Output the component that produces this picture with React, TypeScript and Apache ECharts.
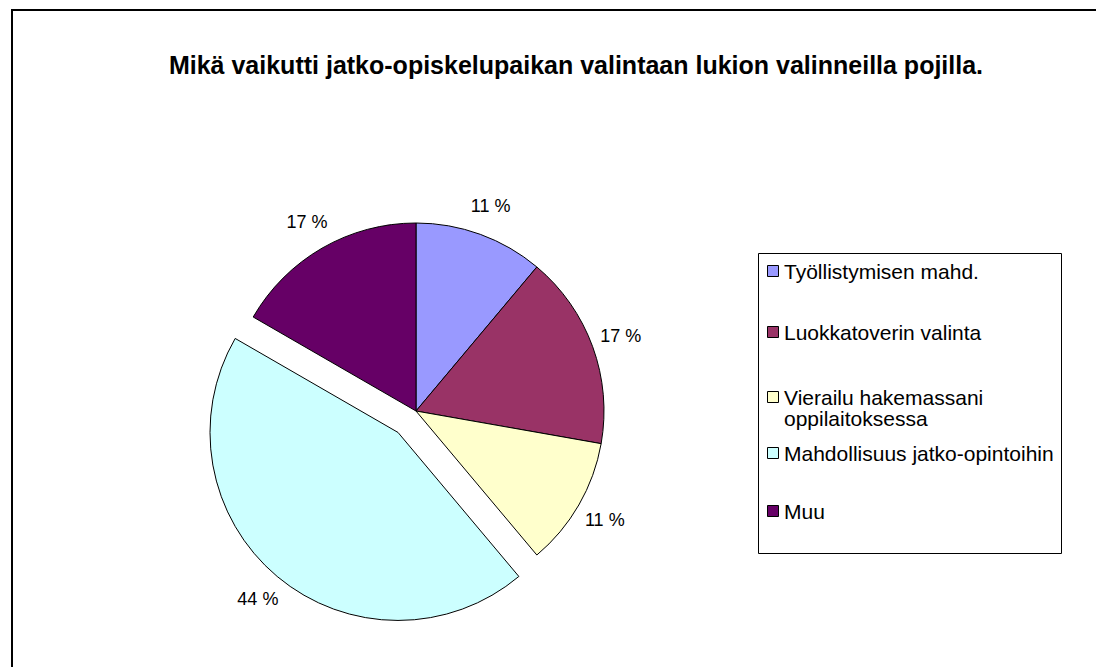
import React, { useEffect, useRef } from "react";
import * as echarts from "echarts";

const TITLE = "Mikä vaikutti jatko-opiskelupaikan valintaan lukion valinneilla pojilla.";
const categories = [
  "Työllistymisen mahd.",
  "Luokkatoverin valinta",
  "Vierailu hakemassani\noppilaitoksessa",
  "Mahdollisuus jatko-opintoihin",
  "Muu",
];
const values = [2, 3, 2, 8, 3];
const colors = ["#9999FF", "#993366", "#FFFFCC", "#CCFFFF", "#660066"];
const explodedIndex = 3;

const FONT = "'Liberation Sans', Arial, sans-serif";
const CX = 416;
const CY = 411;
const R = 188;
const OFFSET = 28;
const legendRows = [271, 332, 397, 453, 511];

export default function App() {
  const ref = useRef<HTMLDivElement>(null);
  useEffect(() => {
    if (!ref.current) return;
    const chart = echarts.init(ref.current, null, { renderer: "svg" });
    const data = categories.map((name, i) => ({
      name,
      value: values[i],
      selected: i === explodedIndex,
      itemStyle: { color: colors[i] },
    }));
    const labelData = categories.map((name, i) => ({
      name,
      value: values[i],
      selected: i === explodedIndex,
    }));
    const legendGraphics: any[] = [
      {
        type: "rect",
        shape: { x: 758.5, y: 253.5, width: 303, height: 300 },
        style: { fill: "#fff", stroke: "#000", lineWidth: 1 },
        z: 10,
      },
    ];
    categories.forEach((name, i) => {
      legendGraphics.push({
        type: "rect",
        shape: { x: 767.5, y: legendRows[i] - 5.5, width: 11, height: 11 },
        style: { fill: colors[i], stroke: "#000", lineWidth: 1 },
        z: 11,
      });
      legendGraphics.push({
        type: "text",
        x: 784,
        y: legendRows[i] - 10.5,
        style: {
          text: name,
          fontSize: 21,
          fontFamily: FONT,
          fill: "#000",
          align: "left",
          verticalAlign: "top",
          lineHeight: 21,
        },
        z: 11,
      });
    });
    chart.setOption({
      animation: false,
      backgroundColor: "#fff",
      title: {
        text: TITLE,
        left: 576,
        top: 52.5,
        textAlign: "center",
        padding: 0,
        textStyle: {
          fontFamily: FONT,
          fontSize: 25,
          fontWeight: "bold",
          color: "#000",
          lineHeight: 25,
        },
      },
      graphic: [
        {
          type: "rect",
          shape: { x: 12, y: 10, width: 1200, height: 800 },
          style: { fill: "none", stroke: "#000", lineWidth: 2 },
          z: 20,
        },
        ...legendGraphics,
      ],
      series: [
        {
          type: "pie",
          center: [CX, CY],
          radius: [0, R],
          startAngle: 90,
          clockwise: true,
          selectedMode: "single",
          selectedOffset: OFFSET,
          avoidLabelOverlap: false,
          label: { show: false },
          labelLine: { show: false },
          itemStyle: { borderColor: "#000", borderWidth: 1 },
          emphasis: { disabled: true },
          select: { disabled: false, itemStyle: { borderColor: "#000", borderWidth: 1 } },
          silent: true,
          data,
        },
        {
          type: "pie",
          center: [CX, CY],
          radius: [198, 232],
          startAngle: 90,
          clockwise: true,
          selectedMode: "single",
          selectedOffset: OFFSET,
          avoidLabelOverlap: false,
          silent: true,
          itemStyle: { color: "rgba(0,0,0,0)", borderWidth: 0 },
          emphasis: { disabled: true },
          label: {
            show: true,
            position: "inside",
            fontFamily: FONT,
            fontSize: 18,
            color: "#000",
            formatter: (p: any) => Math.round(p.percent) + " %",
          },
          labelLine: { show: false },
          data: labelData,
        },
      ],
    });
    return () => chart.dispose();
  }, []);
  return (
    <div
      ref={ref}
      style={{ position: "fixed", left: 0, top: 0, width: 1096, height: 667 }}
    />
  );
}
